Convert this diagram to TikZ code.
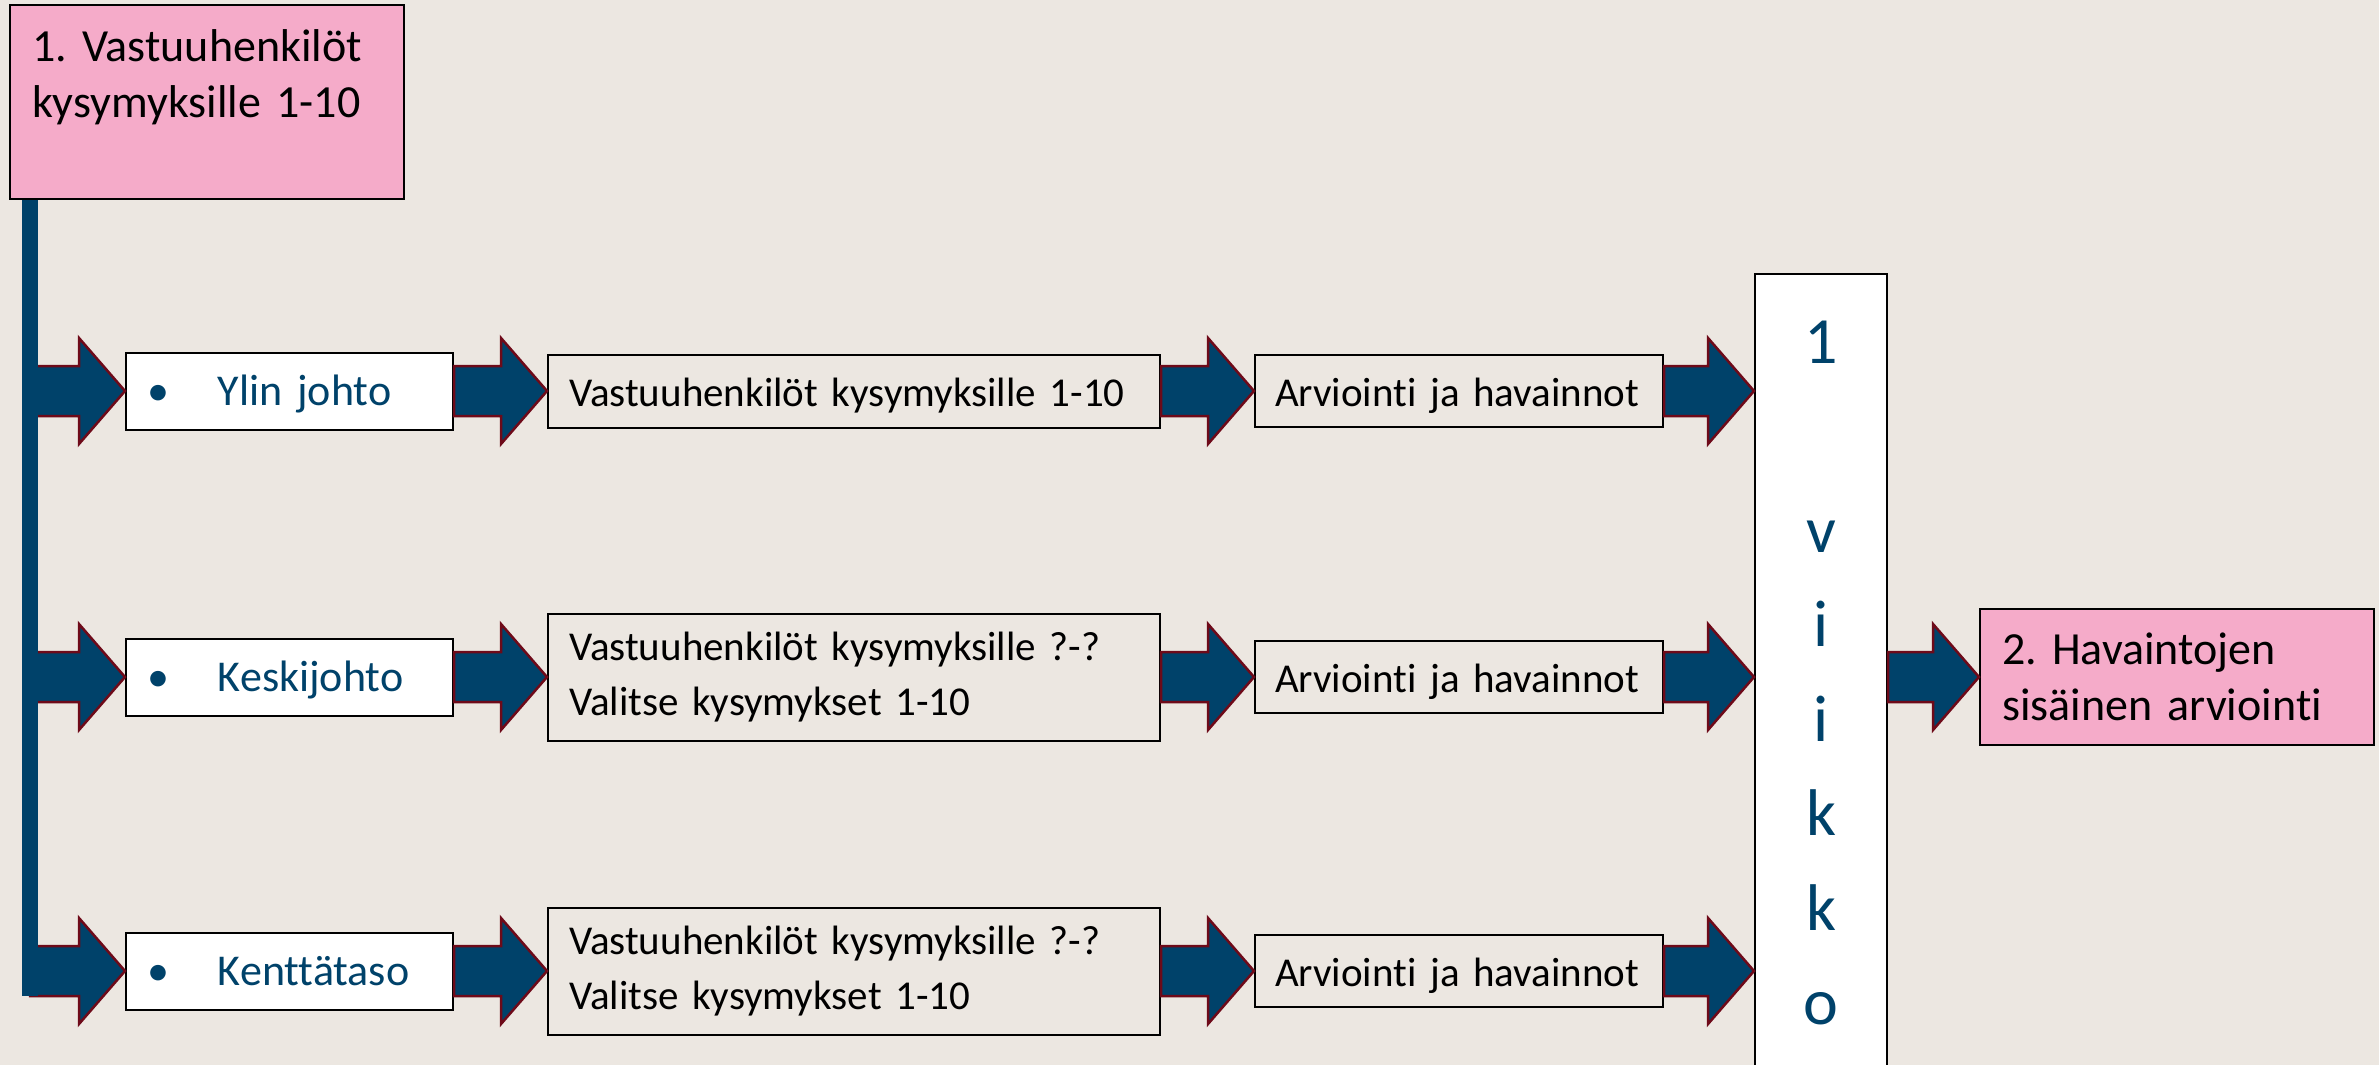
\documentclass[tikz,border=0pt]{standalone}
\usepackage{fontspec}
\setmainfont{Carlito}[Ligatures=CommonOff]
\usepackage{xcolor}
\usepackage{tikz}
\usetikzlibrary{positioning, calc}
\definecolor{slidebg}{HTML}{ECE7E1}
\definecolor{rosebox}{HTML}{F5ABC9}
\definecolor{navyblue}{HTML}{00426A}
\definecolor{arrowedge}{HTML}{6E0A19}
\newcommand{\blockarrow}[2]{%
  \draw [bigarrow] let \p1=(#1), \p2=(#2) in
    (\x1,\y2+25pt) -- (\x2-46pt,\y2+25pt) -- (\x2-46pt,\y2+53pt) -- (\x2,\y2)
    -- (\x2-46pt,\y2-53pt) -- (\x2-46pt,\y2-25pt) -- (\x1,\y2-25pt) -- cycle;}
\frenchspacing

\begin{document}
\begin{tikzpicture}[
    x=1pt, y=-1pt,
    node distance=93pt,
    role/.style={
      draw, 
      line width=2pt,
      fill=white, 
      minimum width=327pt, 
      minimum height=77pt, 
      inner xsep=21pt,
      text width=285pt,
      align=left,
      text=navyblue,
      text height=28pt,
      text depth=0pt,
      font=\fontsize{44}{52}\selectfont
    },
    task/.style={
      draw, 
      line width=2pt,
      fill=slidebg, 
      minimum width=612pt, 
      inner xsep=21pt,
      text width=570pt,
      align=left,
      font=\fontsize{41}{55}\selectfont
    },
    review/.style={
      draw, 
      line width=2pt,
      fill=slidebg, 
      minimum width=408pt, 
      minimum height=72pt, 
      inner xsep=20pt,
      text width=368pt,
      align=left,
      text height=30pt,
      text depth=0pt,
      font=\fontsize{41}{55}\selectfont
    },
    week/.style={
      draw, 
      line width=2pt,
      fill=white, 
      minimum width=132pt, 
      minimum height=798pt, 
      align=center,
      text=navyblue,
      font=\fontsize{66}{94.5}\selectfont
    },
    phase/.style={
      draw, 
      line width=2pt,
      fill=rosebox, 
      minimum width=394pt, 
      inner xsep=22pt,
      text width=350pt,
      align=left,
      font=\fontsize{46}{56}\selectfont
    },
    bigarrow/.style={
      fill=navyblue, 
      draw=arrowedge, 
      line width=2.5pt
    },
    trunkline/.style={
      navyblue, 
      line width=16pt
    }
]
\fill [slidebg] (0,0) rectangle (2379,1065);
\useasboundingbox (0,0) rectangle (2379,1065);

% Start
\node (start) [phase, minimum height=194pt] at (207,102) {1. Vastuuhenkilöt\\kysymyksille 1-10\\\mbox{}};
\coordinate (trunk) at (30,996);

% Row 1: Ylin johto
\node (ylin) [role] at (289.5,391) {\makebox[71pt][l]{\textbullet}Ylin johto};
\node (vast1) [task, minimum height=73pt, text height=31pt, text depth=0pt, right=of ylin] {Vastuuhenkilöt kysymyksille 1-10};
\node (arv1) [review, right=of vast1] {Arviointi ja havainnot};

% Row 2: Keskijohto
\node (keski) [role] at (289.5,677) {\makebox[71pt][l]{\textbullet}Keskijohto};
\node (vast2) [task, minimum height=127pt, right=of keski] {Vastuuhenkilöt kysymyksille ?-?\\Valitse kysymykset 1-10};
\node (arv2) [review, right=of vast2] {Arviointi ja havainnot};

% Row 3: Kenttataso
\node (kentta) [role] at (289.5,971) {\makebox[71pt][l]{\textbullet}Kenttätaso};
\node (vast3) [task, minimum height=127pt, right=of kentta] {Vastuuhenkilöt kysymyksille ?-?\\Valitse kysymykset 1-10};
\node (arv3) [review, right=of vast3] {Arviointi ja havainnot};

% One week
\node (viikko) [week, right=90pt of arv2, yshift=4pt] {1\\\mbox{}\\v\\i\\i\\k\\k\\o};

% Internal review
\node (sisainen) [phase, minimum height=136pt, right=91pt of viikko, yshift=-4pt] {2. Havaintojen\\sisäinen arviointi};

% Block arrows
\blockarrow{trunk}{ylin.west}
\blockarrow{trunk}{keski.west}
\blockarrow{trunk}{kentta.west}
\blockarrow{ylin.east}{vast1.west}
\blockarrow{keski.east}{vast2.west}
\blockarrow{kentta.east}{vast3.west}
\blockarrow{vast1.east}{arv1.west}
\blockarrow{vast2.east}{arv2.west}
\blockarrow{vast3.east}{arv3.west}
\blockarrow{arv1.east}{viikko.west |- arv1.east}
\blockarrow{arv2.east}{viikko.west |- arv2.east}
\blockarrow{arv3.east}{viikko.west |- arv3.east}
\blockarrow{viikko.east}{sisainen.west}

% Trunk line
\draw [trunkline] (start.south -| trunk) -- (trunk);

\end{tikzpicture}
\end{document}
